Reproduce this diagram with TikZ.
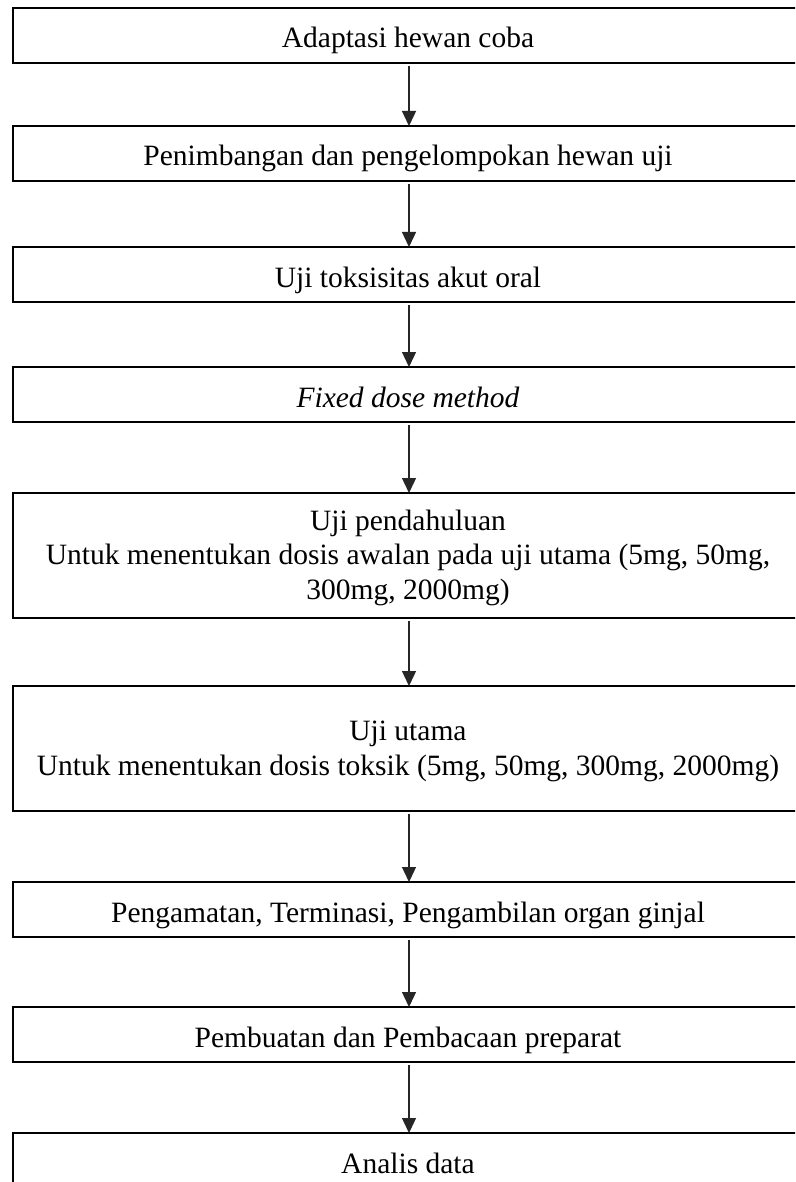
\documentclass[tikz,border=0pt]{standalone}
\usepackage{fontspec}
\setmainfont{Liberation Serif}
\usetikzlibrary{arrows.meta}
\tikzset{
  box/.style={draw=black, line width=1.6pt, inner sep=0pt, outer sep=0pt,
    minimum width=790pt, align=center, anchor=north,
    font={\fontsize{29.5}{34.5}\selectfont}},
  single/.style={box, text height=40pt, text depth=15pt},
  arr/.style={draw=black!85, line width=1.3pt, shorten <=3pt,
    -{Triangle[width=14pt,length=15pt]}}
}
\begin{document}
\begin{tikzpicture}[x=1pt,y=-1pt]
\path[use as bounding box] (0,0) rectangle (795,1182);
\clip (0,0) rectangle (795,1182);
\fill[white] (0,0) rectangle (795,1182);
\node[single] (b1) at (408,8) {Adaptasi hewan coba};
\node[single] (b2) at (408,126) {Penimbangan dan pengelompokan hewan uji};
\node[single] (b3) at (408,247) {Uji toksisitas akut oral};
\node[single] (b4) at (408,367) {\textit{Fixed dose method}};
\node[box, text height=106pt, text depth=19pt] (b5) at (408,493)
  {Uji pendahuluan\\Untuk menentukan dosis awalan pada uji utama (5mg, 50mg,\\300mg, 2000mg)};
\node[box, text height=89pt, text depth=36pt] (b6) at (408,686)
  {Uji utama\\Untuk menentukan dosis toksik (5mg, 50mg, 300mg, 2000mg)};
\node[single] (b7) at (408,882) {Pengamatan, Terminasi, Pengambilan organ ginjal};
\node[single] (b8) at (408,1007) {Pembuatan dan Pembacaan preparat};
\node[single] (b9) at (408,1133) {Analis data};
\foreach \a/\b in {b1/b2,b2/b3,b3/b4,b4/b5,b5/b6,b6/b7,b7/b8,b8/b9}
  \draw[arr] ([xshift=1pt]\a.south) -- ([xshift=1pt]\b.north);
\end{tikzpicture}
\end{document}
